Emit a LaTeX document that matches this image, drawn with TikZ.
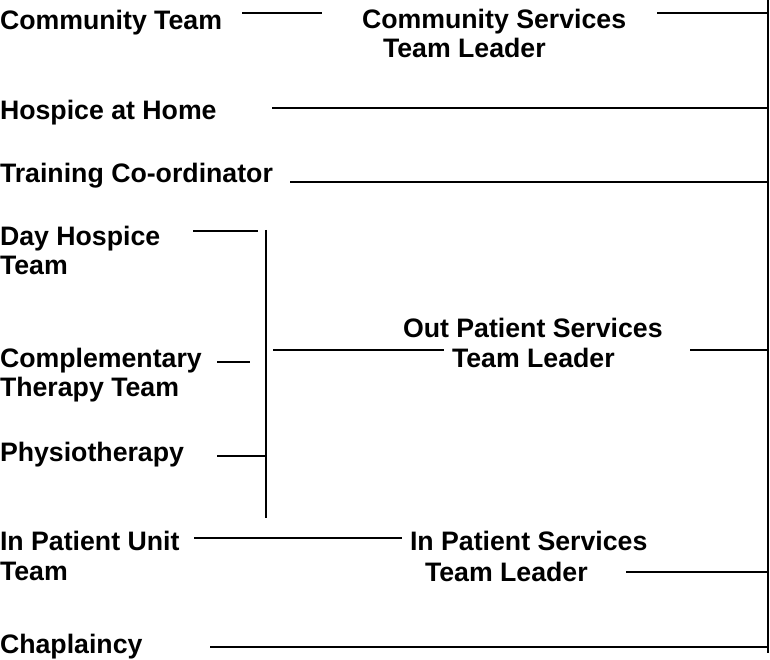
\documentclass[tikz,border=0pt]{standalone}
\usepackage{fontspec}
\setmainfont{Liberation Sans}
\begin{document}
\begin{tikzpicture}[x=1pt,y=-1pt,
  lbl/.style={anchor=base west,inner sep=0pt,outer sep=0pt,font=\fontsize{26.7}{29.5}\selectfont\bfseries},
  conn/.style={line width=1.6pt,black},
  busline/.style={line width=1.4pt,black}]
\useasboundingbox (0,0) rectangle (770,660);
% labels
\node[lbl] (ct) at (0,30) {Community Team};
\node[lbl] (cs1) at (362,29) {Community Services};
\node[lbl] (cs2) at (383,58) {Team Leader};
\node[lbl] (hah) at (0,120) {Hospice at Home};
\node[lbl] (tc) at (0,183) {Training Co-ordinator};
\node[lbl] (dh1) at (0,245) {Day Hospice};
\node[lbl] (dh2) at (0,274) {Team};
\node[lbl] (ctt1) at (0,367) {Complementary};
\node[lbl] (ctt2) at (0,396) {Therapy Team};
\node[lbl] (phy) at (0,461) {Physiotherapy};
\node[lbl] (op1) at (403,337) {Out Patient Services};
\node[lbl] (op2) at (452,367) {Team Leader};
\node[lbl] (ipu1) at (0,550) {In Patient Unit};
\node[lbl] (ipu2) at (0,580) {Team};
\node[lbl] (ip1) at (410,550) {In Patient Services};
\node[lbl] (ip2) at (425,581) {Team Leader};
\node[lbl] (chap) at (0,653.5) {Chaplaincy};
% connector end points
\coordinate (bustop) at (768,0);
\coordinate (busbot) at (768,653);
\coordinate (ctA) at (242,13);  \coordinate (ctB) at (322,13);
\coordinate (csA) at (657,13);  \coordinate (csB) at (768,13);
\coordinate (hahA) at (272,108); \coordinate (hahB) at (768,108);
\coordinate (tcA) at (290,182); \coordinate (tcB) at (768,182);
\coordinate (dhA) at (193,231); \coordinate (dhB) at (258,231);
\coordinate (vtop) at (266,230); \coordinate (vbot) at (266,518);
\coordinate (cttA) at (217,362); \coordinate (cttB) at (250,362);
\coordinate (phyA) at (217,456); \coordinate (phyB) at (266,456);
\coordinate (opA) at (273,350); \coordinate (opB) at (444,350);
\coordinate (opC) at (690,350); \coordinate (opD) at (768,350);
\coordinate (ipuA) at (194,538); \coordinate (ipuB) at (402,538);
\coordinate (ipA) at (626,572); \coordinate (ipB) at (768,572);
\coordinate (chA) at (210,647); \coordinate (chB) at (768,647);
% connectors
\draw[busline] (bustop) -- (busbot);
\draw[conn] (ctA) -- (ctB);
\draw[conn] (csA) -- (csB);
\draw[conn] (hahA) -- (hahB);
\draw[conn] (tcA) -- (tcB);
\draw[conn] (dhA) -- (dhB);
\draw[busline] (vtop) -- (vbot);
\draw[conn] (cttA) -- (cttB);
\draw[conn] (phyA) -- (phyB);
\draw[conn] (opA) -- (opB);
\draw[conn] (opC) -- (opD);
\draw[conn] (ipuA) -- (ipuB);
\draw[conn] (ipA) -- (ipB);
\draw[conn] (chA) -- (chB);
\end{tikzpicture}
\end{document}
